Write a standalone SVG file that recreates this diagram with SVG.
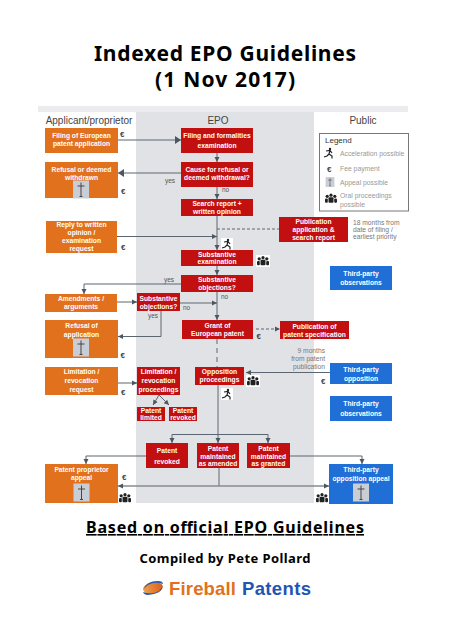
<svg xmlns="http://www.w3.org/2000/svg" width="450" height="637" viewBox="0 0 450 637">
<style>
text{font-family:"Liberation Sans",Arial,sans-serif}
.t{font-size:6.7px;font-weight:700;fill:#fff;text-anchor:middle}
.o{fill:#e2711d}.r{fill:#c20f0f}.b{fill:#1f6fd6}
.h{font-size:10px;fill:#444;text-anchor:middle}
.g{font-size:6.7px;fill:#777}
.l{font-size:6.8px;fill:#999}
.n{font-size:6.5px;fill:#555}
.e{font-size:8px;fill:#444;font-weight:700}
.c{fill:none;stroke:#5c6670;stroke-width:1}
.m{fill:none;stroke:#858b92;stroke-width:1.400}
.d{stroke-dasharray:3 2}
.title{font-family:"Noto Sans","Liberation Sans",sans-serif;font-weight:700;font-size:21px;fill:#000;text-anchor:middle}
.sub{font-family:"Noto Sans","Liberation Sans",sans-serif;font-weight:700;fill:#000;text-anchor:middle}
</style>
<defs>
<marker id="a" markerWidth="6" markerHeight="6" refX="5" refY="3" orient="auto" markerUnits="userSpaceOnUse"><path d="M0 0.5L5 3L0 5.500Z" fill="#4c5660"/></marker>
<marker id="A" markerWidth="7" markerHeight="8" refX="6" refY="4" orient="auto" markerUnits="userSpaceOnUse"><path d="M0 0L6 4L0 8Z" fill="#4c5660"/></marker>
<g id="appeal"><rect x="-8" y="-9" width="16" height="18" fill="#c9ced6"/><path d="M0-7V7M-3.500-3.500H3.500M-1.500 7H1.500" stroke="#444" stroke-width="1" fill="none"/></g>
<g id="run"><rect x="-6" y="-6" width="12" height="12" fill="#fff"/><circle cx="1" cy="-4" r="1.200" fill="#222"/><path d="M-3-2L1-2.500L3 0M1-2.500L0 1L3 3L3 5.500M0 1L-2 3L-5 4" fill="none" stroke="#222" stroke-width="1.200"/></g>
<g id="oral"><rect x="-7" y="-6" width="14" height="12" fill="#fff"/><g fill="#222"><circle cx="-3.800" cy="-2.200" r="1.600"/><circle cx="0" cy="-3.300" r="1.600"/><circle cx="3.800" cy="-2.200" r="1.600"/><rect x="-2.500" y="-1.200" width="5" height="5.500" rx="1"/><rect x="-6" y="0" width="2.800" height="4.300" rx="1"/><rect x="3.200" y="0" width="2.800" height="4.300" rx="1"/></g></g>
<linearGradient id="ball" x1="0" y1="0" x2="1" y2="0"><stop offset="0" stop-color="#f0a050"/><stop offset="1" stop-color="#d9601a"/></linearGradient>
</defs>

<rect width="450" height="637" fill="#fff"/>
<text class="title" x="225" y="61" textLength="262">Indexed EPO Guidelines</text>
<text class="title" x="225" y="87" textLength="140">(1 Nov 2017)</text>

<rect x="38" y="106" width="370" height="6" fill="#ececee"/>
<rect x="136" y="112" width="178" height="391" fill="#e1e2e6"/>
<text class="h" x="89" y="124">Applicant/proprietor</text>
<text class="h" x="218" y="124">EPO</text>
<text class="h" x="363" y="124">Public</text>

<g id="connectors">
<path class="c" d="M118 140H181" marker-end="url(#A)"/>
<path class="c" d="M217 153V162" marker-end="url(#a)"/>
<path class="c" d="M181 173H118" marker-end="url(#A)"/>
<path class="c" d="M217 187V199" marker-end="url(#a)"/>
<path class="c" d="M217 216V250" marker-end="url(#a)"/>
<path class="c" d="M117 236.500H217" marker-end="url(#a)"/>
<path class="c d" d="M217 229H279"/>
<path class="c" d="M217 266V275" marker-end="url(#a)"/>
<path class="c" d="M181 284H84V294" marker-end="url(#a)"/>
<path class="c" d="M117 302H137" marker-end="url(#a)"/>
<path class="c" d="M180 303H217" marker-end="url(#a)"/>
<path class="c" d="M217 292V320" marker-end="url(#a)"/>
<path class="c" d="M161 311V336.500H118" marker-end="url(#a)" stroke-width="1.300"/>
<path class="c" d="M217 339V367" stroke-dasharray="5 4"/>
<path class="c d" d="M256 329H280" marker-end="url(#a)"/>
<path class="c" d="M330 372.500H246" marker-end="url(#a)"/>
<path class="c" d="M118 383H137" marker-end="url(#a)"/>
<path class="c" d="M159 395L153 405" marker-end="url(#a)"/>
<path class="c" d="M159 395L169 405" marker-end="url(#a)"/>
<path class="m" d="M218 385V443" marker-end="url(#a)"/>
<path class="c" d="M172 434.500H268"/>
<path class="c" d="M172 434.500V443" marker-end="url(#a)"/>
<path class="c" d="M268 434.500V443" marker-end="url(#a)"/>
<path class="c" d="M146 456H86V464" marker-end="url(#a)"/>
<path class="c" d="M290 456H362V464" marker-end="url(#a)"/>
<path class="m" d="M219 468V486"/>
<path class="m" d="M219 486H118" marker-end="url(#a)"/>
<path class="m" d="M219 486H329" marker-end="url(#a)"/>
</g>

<g id="filing"><rect class="o" x="45" y="128" width="73" height="25"/><text class="t" x="81.500" y="137.500">Filing of European</text><text class="t" x="81.500" y="145.500">patent application</text></g>
<g id="refusal-withdrawn"><rect class="o" x="45" y="162" width="73" height="36"/><text class="t" x="81.500" y="171.500">Refusal or deemed</text><text class="t" x="81.500" y="179.500">withdrawn</text><use href="#appeal" x="81" y="189.500"/></g>
<g id="reply"><rect class="o" x="46" y="221" width="71" height="32"/><text class="t" x="81.500" y="227">Reply to written</text><text class="t" x="81.500" y="235">opinion /</text><text class="t" x="81.500" y="243">examination</text><text class="t" x="81.500" y="250.500">request</text></g>
<g id="formalities"><rect class="r" x="181" y="128" width="72" height="25"/><text class="t" x="217" y="137.500">Filing and formalities</text><text class="t" x="217" y="148">examination</text></g>
<g id="cause"><rect class="r" x="181" y="162" width="72" height="25"/><text class="t" x="217" y="171.500">Cause for refusal or</text><text class="t" x="217" y="179.500">deemed withdrawal?</text></g>
<g id="search"><rect class="r" x="181" y="199" width="72" height="17"/><text class="t" x="217" y="205.500">Search report +</text><text class="t" x="217" y="213.500">written opinion</text></g>
<g id="publication"><rect class="r" x="279" y="217" width="69" height="25"/><text class="t" x="313.500" y="224">Publication</text><text class="t" x="313.500" y="232">application &amp;</text><text class="t" x="313.500" y="239.500">search report</text></g>
<g id="exam"><rect class="r" x="181" y="250" width="72" height="16"/><text class="t" x="217" y="256.500">Substantive</text><text class="t" x="217" y="264">examination</text></g>
<g id="objections"><rect class="r" x="181" y="275" width="72" height="17"/><text class="t" x="217" y="281.500">Substantive</text><text class="t" x="217" y="289.500">objections?</text></g>
<g id="amendments"><rect class="o" x="45" y="294" width="72" height="18"/><text class="t" x="81" y="301">Amendments /</text><text class="t" x="81" y="309">arguments</text></g>
<g id="objections-small"><rect class="r" x="137" y="293" width="43" height="18"/><text class="t" x="158.500" y="300.500">Substantive</text><text class="t" x="158.500" y="308.500">objections?</text></g>
<g id="grant"><rect class="r" x="182" y="320" width="71" height="19"/><text class="t" x="217.500" y="327.500">Grant of</text><text class="t" x="217.500" y="336">European patent</text></g>
<g id="publication-spec"><rect class="r" x="280" y="321" width="69" height="18"/><text class="t" x="314.500" y="328.500">Publication of</text><text class="t" x="314.500" y="336.500">patent specification</text></g>
<g id="refusal-application"><rect class="o" x="45" y="320" width="73" height="38"/><text class="t" x="81.500" y="327.500">Refusal of</text><text class="t" x="81.500" y="337">application</text><use href="#appeal" x="81" y="347.500"/></g>
<g id="limitation-request"><rect class="o" x="45" y="367" width="73" height="28"/><text class="t" x="81.500" y="374">Limitation /</text><text class="t" x="81.500" y="383">revocation</text><text class="t" x="81.500" y="391.500">request</text></g>
<g id="limitation"><rect class="r" x="137" y="367" width="43" height="28"/><text class="t" x="158.500" y="374">Limitation /</text><text class="t" x="158.500" y="383">revocation</text><text class="t" x="158.500" y="391.500">proceedings</text></g>
<g id="opposition"><rect class="r" x="195" y="367" width="49" height="18"/><text class="t" x="219.500" y="373.500">Opposition</text><text class="t" x="219.500" y="382">proceedings</text></g>
<g id="limited"><rect class="r" x="137" y="407" width="28" height="14"/><text class="t" x="151" y="412.500">Patent</text><text class="t" x="151" y="419.500">limited</text></g>
<g id="revoked-small"><rect class="r" x="169" y="407" width="28" height="14"/><text class="t" x="183" y="412.500">Patent</text><text class="t" x="183" y="419.500">revoked</text></g>
<g id="revoked"><rect class="r" x="146" y="443" width="42" height="25"/><text class="t" x="167" y="453">Patent</text><text class="t" x="167" y="463.500">revoked</text></g>
<g id="amended"><rect class="r" x="197" y="443" width="42" height="25"/><text class="t" x="218" y="450.500">Patent</text><text class="t" x="218" y="458.500">maintained</text><text class="t" x="218" y="466">as amended</text></g>
<g id="granted"><rect class="r" x="247" y="443" width="43" height="25"/><text class="t" x="268.500" y="450.500">Patent</text><text class="t" x="268.500" y="458.500">maintained</text><text class="t" x="268.500" y="466">as granted</text></g>
<g id="proprietor-appeal"><rect class="o" x="45" y="464" width="73" height="39"/><text class="t" x="81.500" y="472">Patent proprietor</text><text class="t" x="81.500" y="479.500">appeal</text><use href="#appeal" x="81.500" y="492.500"/></g>
<g id="obs1"><rect class="b" x="330" y="266" width="62" height="24"/><text class="t" x="361" y="275.500">Third-party</text><text class="t" x="361" y="284.500">observations</text></g>
<g id="third-opposition"><rect class="b" x="330" y="363" width="62" height="21"/><text class="t" x="361" y="371.500">Third-party</text><text class="t" x="361" y="380.500">opposition</text></g>
<g id="obs2"><rect class="b" x="330" y="396" width="62" height="25"/><text class="t" x="361" y="406">Third-party</text><text class="t" x="361" y="416">observations</text></g>
<g id="third-appeal"><rect class="b" x="329" y="464" width="64" height="40"/><text class="t" x="361" y="471.500">Third-party</text><text class="t" x="361" y="480.500">opposition appeal</text><use href="#appeal" x="361" y="492.500"/></g>

<g id="legend">
<rect x="319.500" y="133.500" width="89" height="77.500" fill="#fff" stroke="#777" stroke-width="1"/>
<text x="325" y="143" font-size="8" fill="#333">Legend</text>
<use href="#run" x="329" y="153"/><text class="l" x="340" y="155.500">Acceleration possible</text>
<text class="e" x="327" y="172">€</text><text class="l" x="340" y="170.500">Fee payment</text>
<use href="#appeal" transform="translate(330 182) scale(.55)"/><text class="l" x="340" y="184.500">Appeal possible</text>
<use href="#oral" x="331" y="198.500"/><text class="l" x="340" y="198">Oral proceedings</text><text class="l" x="340" y="206.500">possible</text>
</g>

<g id="labels">
<text class="n" x="165" y="183">yes</text>
<text class="n" x="222" y="192">no</text>
<text class="n" x="164" y="281.500">yes</text>
<text class="n" x="221" y="299">no</text>
<text class="n" x="183" y="310">no</text>
<text class="n" x="148" y="318">yes</text>
<text class="g" x="353" y="224.500">18 months from</text>
<text class="g" x="353" y="231.500">date of filing /</text>
<text class="g" x="353" y="238.500">earliest priority</text>
<text class="g" x="325" y="353" text-anchor="end">9 months</text>
<text class="g" x="325" y="361" text-anchor="end">from patent</text>
<text class="g" x="325" y="369" text-anchor="end">publication</text>
<text class="e" x="120" y="137">€</text>
<text class="e" x="121" y="194">€</text>
<text class="e" x="121" y="250">€</text>
<text class="e" x="120.500" y="358">€</text>
<text class="e" x="121" y="395">€</text>
<text class="e" x="122" y="480">€</text>
<text class="e" x="256.500" y="339">€</text>
<text class="e" x="321" y="384">€</text>
<use href="#run" x="227" y="244"/>
<use href="#oral" x="263" y="261"/>
<use href="#oral" x="253" y="381"/>
<use href="#run" x="227" y="394"/>
<use href="#oral" x="125" y="498"/>
<use href="#oral" x="322" y="498"/>
</g>

<text class="sub" x="225" y="533" font-size="16" text-decoration="underline" textLength="278">Based on official EPO Guidelines</text>
<text class="sub" x="225" y="563" font-size="13" textLength="171">Compiled by Pete Pollard</text>
<g id="logo">
<ellipse cx="153" cy="588" rx="10" ry="6" fill="url(#ball)" transform="rotate(-12 153 588)"/>
<path d="M143 590Q146 581 158 581Q163 581 163 584Q155 581 148 585Q144 588 143 590Z" fill="#1f5fb8"/>
<path d="M163 586Q161 594 148 595Q144 595 143 592Q152 595 159 591Z" fill="#1f5fb8"/>
<text x="169" y="595" font-size="18.500" font-weight="700" font-family="Noto Sans" fill="#e2711d" textLength="67">Fireball</text>
<text x="242" y="595" font-size="18.500" font-weight="700" font-family="Noto Sans" fill="#1f55b5" textLength="69">Patents</text>
</g>
</svg>
